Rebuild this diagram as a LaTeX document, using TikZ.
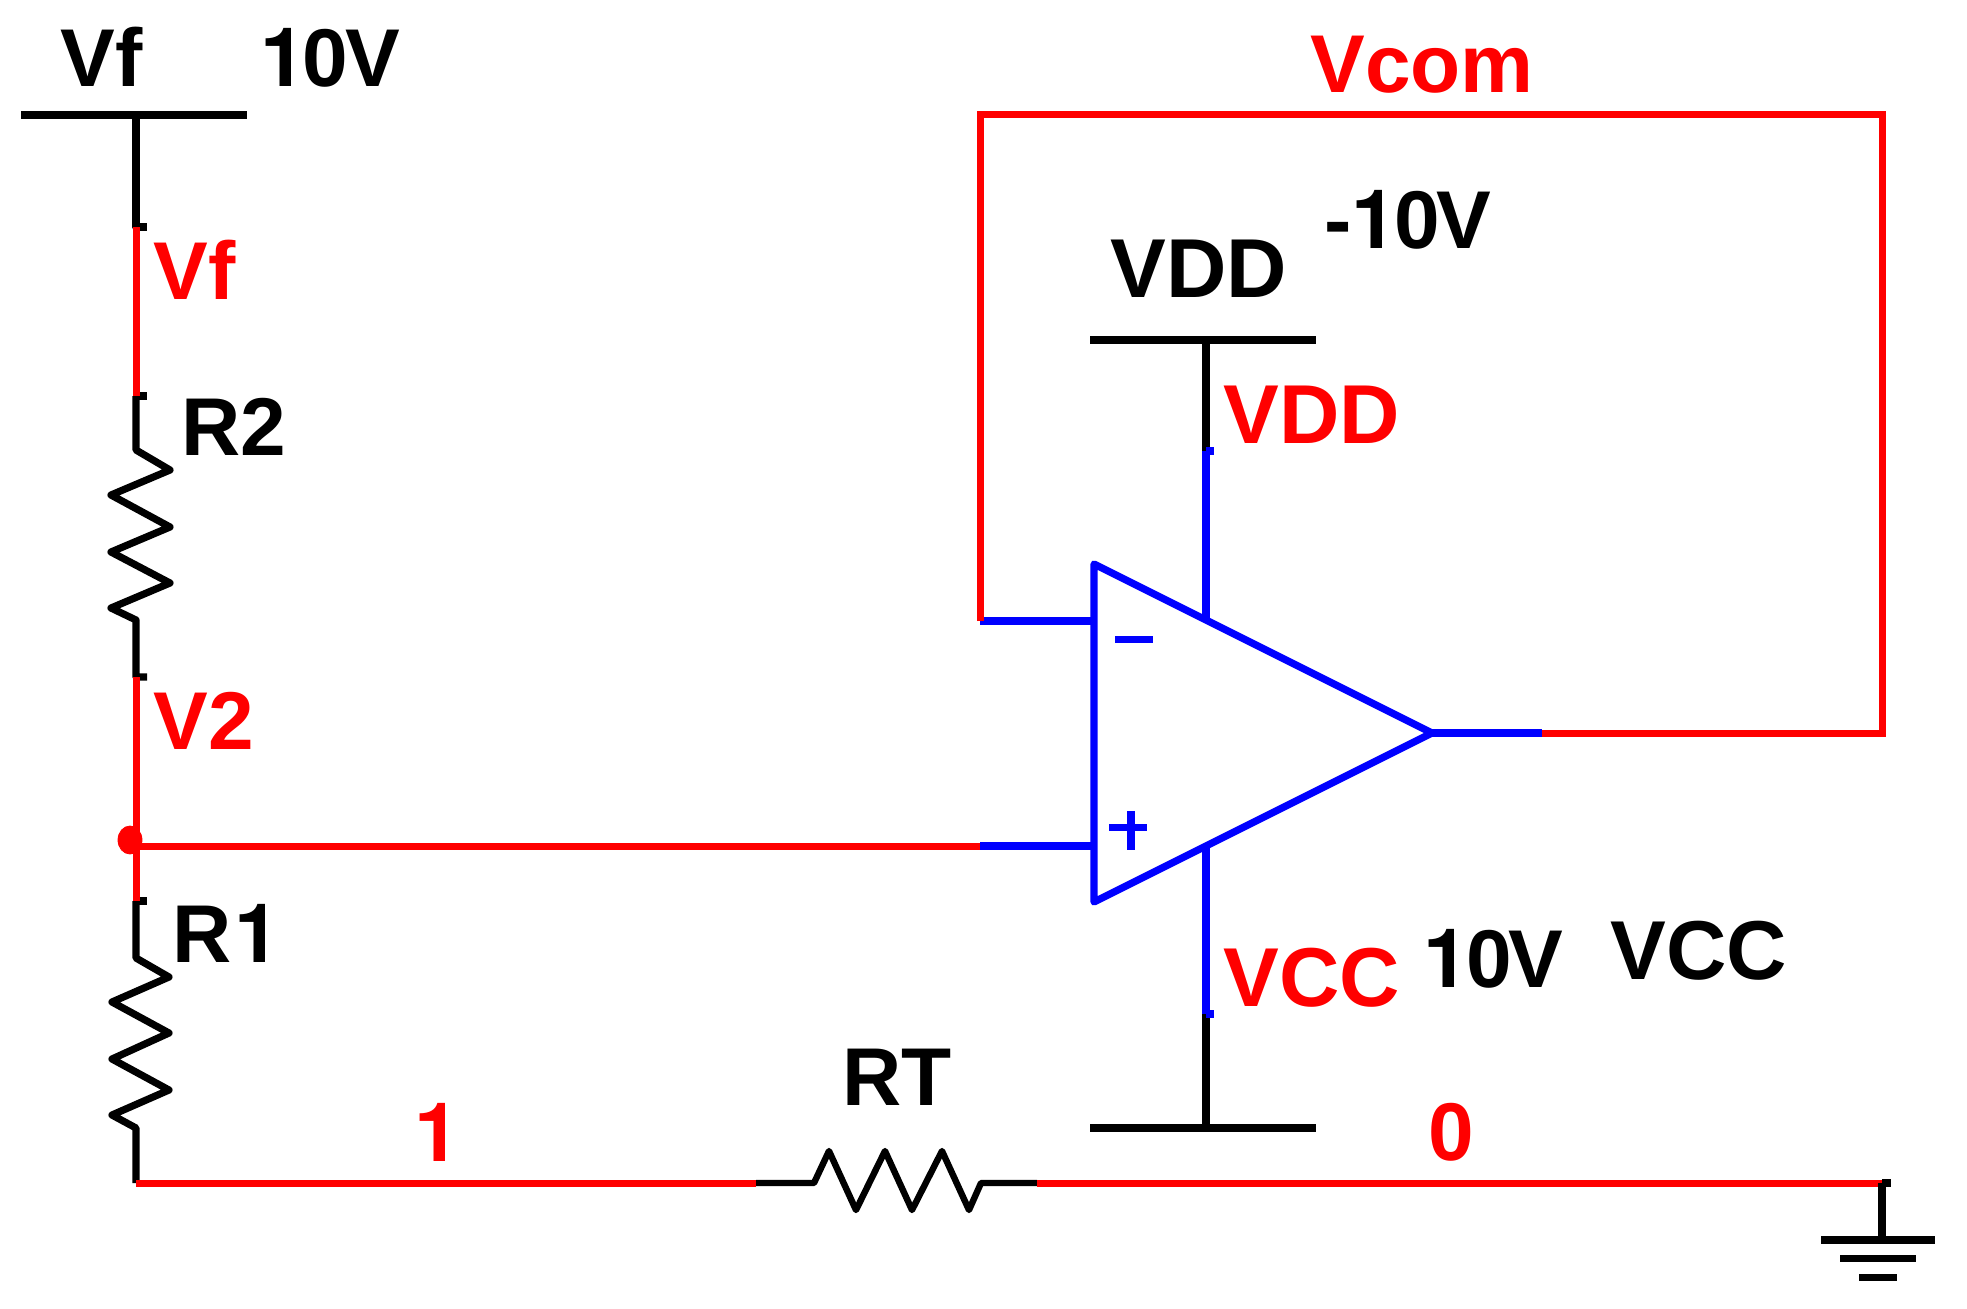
\documentclass[tikz,border=0pt]{standalone}
\usepackage{fontspec}
\setmainfont{Liberation Sans}
\newfontfamily\plainone{TeX Gyre Heros}
\newcommand{\one}{{\plainone\bfseries 1}}
\newcommand{\tenvolt}{\one\kern-1.5pt 0\kern-1.5pt V}
\usetikzlibrary{positioning}

\begin{document}
\begin{tikzpicture}[
    x=0.5pt, y=-0.5pt,
    blackwire/.style={draw=black, line width=3.6pt, line join=round},
    redwire/.style={draw=red, line width=3.5pt},
    bluewire/.style={draw=blue, line width=3.6pt},
    rail/.style={draw=black, line width=3.6pt},
    blacktext/.style={anchor=base west, inner sep=0pt, font=\fontsize{41}{41}\selectfont\bfseries, text=black},
    redtext/.style={blacktext, text=red},
    capstext/.style={font=\fontsize{41.8}{42}\selectfont\bfseries}
]
\useasboundingbox (0,0) rectangle (1967,1308);

% Left rail and divider points
\coordinate (vfL) at (21,115);
\coordinate (vfR) at (247,115);
\coordinate (vfC) at (136,115);
\coordinate (vfA) at (136,227);
\coordinate (vfB) at (136,396);
\coordinate (r2top) at (136,450);
\coordinate (r2bot) at (136,620);
\coordinate (v2A) at (136,677);
\coordinate (v2J) at (136,846);
\coordinate (v2B) at (136,901);
\coordinate (r1top) at (136,958);
\coordinate (r1bot) at (136,1128);
\coordinate (corner) at (136,1183);

% Op amp points
\coordinate (opTop) at (1094,564);
\coordinate (opBot) at (1094,902);
\coordinate (opTip) at (1432,733);
\coordinate (opMinus) at (1094,621);
\coordinate (opPlus) at (1094,846);
\coordinate (opVdd) at (1206,620);
\coordinate (opVcc) at (1206,847);

% Supply rails
\coordinate (vddL) at (1090,340);
\coordinate (vddR) at (1316,340);
\coordinate (vddC) at (1206,340);
\coordinate (vddA) at (1206,451);
\coordinate (vccL) at (1090,1128);
\coordinate (vccR) at (1316,1128);
\coordinate (vccC) at (1206,1128);
\coordinate (vccA) at (1206,1014);

% Feedback loop and bottom wire
\coordinate (fbIn) at (980,621);
\coordinate (fbTL) at (980,114);
\coordinate (fbTR) at (1882,114);
\coordinate (fbBR) at (1882,733);
\coordinate (fbOut) at (1542,733);
\coordinate (inA) at (980,846);
\coordinate (rtA) at (756,1183);
\coordinate (rtL) at (814,1183);
\coordinate (rtR) at (981,1183);
\coordinate (rtB) at (1037,1183);
\coordinate (gnd) at (1882,1183);
\coordinate (gndE) at (1891,1183);
\coordinate (gndS) at (1882,1238);

% Vf rail and R2
\draw[rail] (vfL) -- (vfR);
\draw[blackwire] (vfC) -- (vfA) -- ++(11,0);
\draw[blackwire] (vfB) -- ++(11,0);
\draw[blackwire] (vfB) -- (r2top) -- ++(34,20) -- ++(-59,25) -- ++(59,32) -- ++(-59,25)
    -- ++(59,31) -- ++(-59,25) -- (r2bot) -- (v2A) -- ++(11,0);
\draw[redwire] (vfA) -- (vfB);

% R1 down to the corner
\draw[blackwire] (v2B) -- ++(11,0);
\draw[blackwire] (v2B) -- (r1top) -- ++(33,19) -- ++(-57,25) -- ++(57,31) -- ++(-57,26)
    -- ++(57,31) -- ++(-57,25) -- (r1bot) -- (corner);
\draw[redwire] (v2A) -- (v2B);

% Junction and input wires
\draw[redwire] (v2J) -- (inA);
\draw[bluewire] (inA) -- (opPlus);
\filldraw[red] (130,840) ellipse [x radius=12, y radius=14];

% Bottom wire with RT
\draw[redwire] (corner) -- (rtA);
\draw[blackwire, line width=3.2pt] (rtA) -- (rtL) -- (829,1151) -- (856,1210) -- (885,1151) -- (912,1210)
    -- (942,1151) -- (969,1210) -- (rtR) -- (rtB);
\draw[blackwire] (gnd) -- (gndE);
\draw[redwire] (rtB) -- (gnd);

% Ground
\draw[blackwire, line join=miter] (gnd) -- (gndS);
\draw[draw=black, line width=4pt] (1821,1240) -- (1935,1240);
\draw[draw=black, line width=3.5pt] (1840,1258) -- (1916,1258);
\draw[draw=black, line width=3.5pt] (1859,1277) -- (1897,1277);

% Op amp
\draw[bluewire, line join=round] (opTop) -- (opTip) -- (opBot) -- cycle;
\draw[bluewire] (fbIn) -- (opMinus);
\draw[bluewire] (opTip) -- (fbOut);
\draw[bluewire] (1115,639.5) -- (1153,639.5);
\draw[bluewire] (1109,827.5) -- (1147,827.5);
\draw[bluewire] (1131,811) -- (1131,850);

% Supplies
\draw[rail] (vddL) -- (vddR);
\draw[blackwire] (vddC) -- (vddA);
\draw[bluewire] (vddA) -- ++(8,0);
\draw[bluewire] (vddA) -- (opVdd);
\draw[rail] (vccL) -- (vccR);
\draw[blackwire] (vccC) -- (vccA);
\draw[bluewire] (vccA) -- ++(8,0);
\draw[bluewire] (vccA) -- (opVcc);

% Feedback loop
\draw[redwire, line join=miter] (fbIn) -- (fbTL) -- (fbTR) -- (fbBR) -- (fbOut);

% Labels
\node[blacktext] (vfName) at (60,86) {Vf};
\node[blacktext] (vfVal) at (260,86) {\tenvolt};
\node[redtext] (vfNet) at (153,299) {Vf};
\node[blacktext] (r2Name) at (181,455) {R2};
\node[redtext] (v2Net) at (153,749) {V2};
\node[blacktext] (r1Name) at (172,962) {R\kern1.5pt\one};
\node[blacktext] (rtName) at (842,1105) {RT};
\node[redtext] (oneNet) at (414,1161) {\one};
\node[redtext] (zeroNet) at (1428,1160) {0};
\node[redtext] (comNet) at (1310,92) {Vcom};
\node[blacktext] (vddVal) at (1324,248) {-\tenvolt};
\node[blacktext, capstext] (vddName) at (1110,297) {VDD};
\node[redtext, capstext] (vddNet) at (1223,443) {VDD};
\node[redtext, capstext] (vccNet) at (1223,1006) {VCC};
\node[blacktext] (vccVal) at (1423,987) {\tenvolt};
\node[blacktext, capstext] (vccName) at (1610,979) {VCC};

\end{tikzpicture}
\end{document}
